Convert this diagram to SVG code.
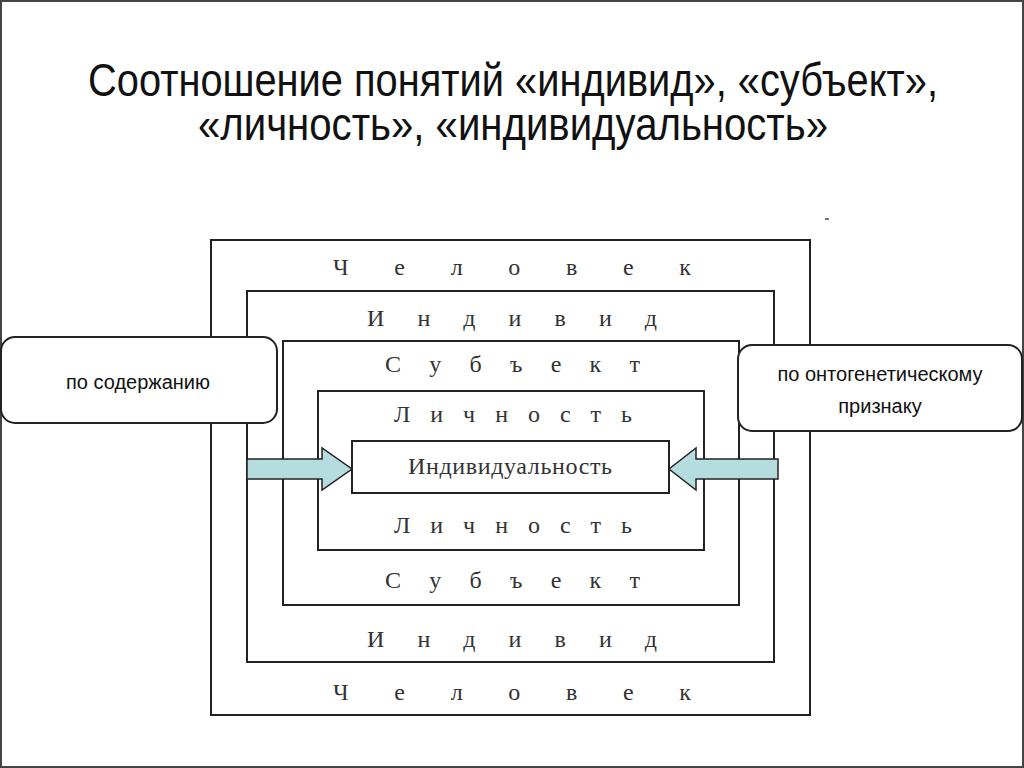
<svg xmlns="http://www.w3.org/2000/svg" width="1024" height="768" viewBox="0 0 1024 768">
<style>
.r{fill:#fff;stroke:#222;stroke-width:2}
.s{font-family:"Liberation Serif",serif;font-size:24px;fill:#333}
.t{font-family:"Liberation Sans",sans-serif;font-size:46px;fill:#111;text-anchor:middle}
.b{font-family:"Liberation Sans",sans-serif;font-size:20px;fill:#111;text-anchor:middle}
.a{fill:#b5dde0;stroke:#222;stroke-width:1.5}
</style>
<rect x="1" y="1" width="1022" height="766" fill="#fff" stroke="#444" stroke-width="2"/>
<g id="title">
<text class="t" x="513" y="96" textLength="850" lengthAdjust="spacingAndGlyphs">Соотношение понятий «индивид», «субъект»,</text>
<text class="t" x="513" y="140" textLength="630" lengthAdjust="spacingAndGlyphs">«личность», «индивидуальность»</text>
</g>
<line x1="825" y1="219" x2="829" y2="219" stroke="#444" stroke-width="1.5"/>
<g id="chelovek"><rect class="r" x="211" y="240" width="599" height="475"/>
<text class="s" x="333" y="275" textLength="358">Ч е л о в е к</text>
<text class="s" x="333" y="700" textLength="358">Ч е л о в е к</text></g>
<g id="individ"><rect class="r" x="247" y="291" width="527" height="371"/>
<text class="s" x="367" y="326" textLength="290">И н д и в и д</text>
<text class="s" x="367" y="647" textLength="290">И н д и в и д</text></g>
<g id="subekt"><rect class="r" x="283" y="341" width="456" height="264"/>
<text class="s" x="385" y="372" textLength="255">С у б ъ е к т</text>
<text class="s" x="385" y="588" textLength="255">С у б ъ е к т</text></g>
<g id="lichnost"><rect class="r" x="318" y="391" width="386" height="159"/>
<text class="s" x="394" y="422" textLength="238">Л и ч н о с т ь</text>
<text class="s" x="394" y="533" textLength="238">Л и ч н о с т ь</text></g>
<g id="individualnost"><rect class="r" x="352" y="441" width="317" height="52"/>
<text class="s" x="510" y="474" text-anchor="middle" textLength="204" font-size="22">Индивидуальность</text></g>
<g id="left"><rect class="r" x="1" y="337" width="276" height="86" rx="14" stroke-width="1.5"/>
<text class="b" x="138" y="389">по содержанию</text></g>
<g id="right"><rect class="r" x="738" y="345" width="284" height="86" rx="14" stroke-width="1.5"/>
<text class="b" x="880" y="381">по онтогенетическому</text>
<text class="b" x="880" y="413">признаку</text></g>
<g id="connectors">
<path class="a" d="M247,459 H322 V448 L352,469 L322,490 V479 H247 Z"/>
<path class="a" d="M778,459 H696 V448 L669,469 L696,490 V479 H778 Z"/>
</g>
</svg>
